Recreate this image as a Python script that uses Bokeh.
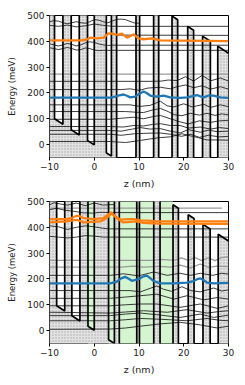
import numpy as np
from bokeh.plotting import figure
from bokeh.layouts import column
from bokeh.models import Range1d
from bokeh.embed import file_html
from bokeh.resources import INLINE

# ---------------- data ----------------
x_ticks = [-10, 0, 10, 20, 30]
y_ticks = [0, 100, 200, 300, 400, 500]

# layer boundaries (nm); material per layer (1 = barrier, 0 = well)
top_edges = [-10, -8.88, -7.0, -5.15, -3.35, -1.5, 0.0, 2.7, 3.83, 5.0, 9.33, 10.14,
             13.27, 14.4, 17.38, 18.64, 20.88, 22.2, 24.2, 25.95, 27.6, 30]
bot_edges = [-10, -8.4, -6.6, -5.0, -3.2, -1.4, 0.0, 3.2, 4.5, 5.6, 9.5, 10.1,
             13.3, 14.7, 17.6, 18.8, 21.0, 22.3, 24.3, 25.9, 27.7, 30]
layer_barrier = [1, 0, 1, 0, 1, 0, 1, 0, 1, 0, 1, 0, 1, 0, 1, 0, 1, 0, 1, 0, 1]
# band edge: well bottom at z=0 (meV), field (meV/nm), barrier height (meV)
top_band = (-1.0, 11.4, 697.0)
bot_band = (1.0, 11.3, 685.0)

# highlighted (green) regions, bottom panel
green_left = [-1.4, 3.2]
green_right = [0.0, 17.6]

# ---- top panel states ----
top_gray_E = [273]
top_u1_z = [-10, -9, -8, -7, -6, -5, -4, -3, -2, -1, 0, 1, 2, 3, 4, 5, 6, 7, 8, 9, 10]
top_u1_E = [476, 480, 478, 472, 468, 472, 476, 472, 470, 476, 484, 482, 476, 472, 478, 485, 486, 484, 477, 471, 470]
top_u2_z = [-10, -8, -6, -4, -2, 0, 2, 4, 30]
top_u2_E = [462, 458, 463, 456, 460, 467, 462, 458, 458]
top_u5_z = [5, 30]
top_u5_E = [424, 423]
top_u3_z = [-10, -9, -8, -7, -6, -5, -4, -3, -2, -1, 0, 1, 2, 3, 4, 30]
top_u3_E = [390, 386, 382, 386, 392, 388, 382, 386, 394, 398, 396, 390, 386, 384, 385, 385]
top_u4_z = [-10, -9, -8, -7, -6, -5, -4, -3, -2, -1, 0, 1, 2, 30]
top_u4_E = [375, 372, 368, 372, 376, 372, 366, 368, 374, 372, 366, 364, 365, 365]
top_orange_z = [-10, -3.1, -1.8, -0.9, 0.6, 2.1, 3.2, 4.0, 4.7, 5.4, 6.2, 7.3, 8.0, 8.8, 9.9, 11.0, 12.9, 14.8, 30]
top_orange_E = [404, 404, 406, 414, 411, 414, 431, 430, 427, 426, 430, 414, 420, 427, 411, 408, 411, 404, 401]
top_blue_z = [-10, 3.6, 4.7, 5.6, 6.55, 7.3, 8.04, 9.16, 10.1, 11.0, 11.8, 12.5, 14.0, 15.5, 17.0, 19.24, 20.73, 22.0, 22.97, 23.7, 24.46, 25.57, 26.69, 28.18, 30]
top_blue_E = [182, 182, 186, 191, 194, 189, 183, 186, 197, 206, 199, 190, 186, 190, 183, 181, 183, 188, 192, 187, 183, 190, 190, 183, 181]
top_l1_z = [-10, 13, 15, 16.5, 18.5, 20.4, 22.2, 24.1, 26, 28.2, 30]
top_l1_E = [245, 245, 246, 250, 248, 263, 246, 268, 247, 258, 246]
top_l2_z = [-10, 6, 8, 10, 12, 14.8, 17, 18.5, 20.4, 22.2, 24.1, 26, 28.2, 30]
top_l2_E = [213, 213, 216, 210, 219, 222, 216, 224, 231, 220, 228, 215, 224, 215]
top_l3_z = [-10, 8, 10.3, 12.5, 14.76, 16.3, 17.8, 20, 21.9, 24.5, 26, 28.2, 30]
top_l3_E = [154, 154, 148, 152, 168, 150, 146, 158, 146, 156, 144, 154, 147]
top_l4_z = [-10, 7, 8.8, 11, 13, 14.76, 16.5, 17.8, 19.6, 21.5, 23.5, 25.2, 27, 28.5, 30]
top_l4_E = [128, 128, 126, 124, 134, 140, 128, 116, 112, 121, 114, 121, 113, 119, 115]
top_l5_z = [-10, 3.6, 6, 8.8, 11, 13, 14.76, 17, 19.2, 21, 23.5, 26, 28, 30]
top_l5_E = [98, 98, 102, 106, 100, 108, 113, 100, 88, 80, 92, 86, 92, 94]
top_l6_z = [-10, 3.6, 6.5, 8.8, 11, 13, 14.76, 17, 19.2, 21, 23.7, 26, 28, 30]
top_l6_E = [70, 70, 68, 74, 72, 78, 81, 74, 74, 64, 68, 60, 66, 62]
top_l7_z = [-10, 3.6, 6, 8.5, 10.3, 12.5, 14.76, 17, 19.2, 21, 23.7, 25.5, 27.5, 30]
top_l7_E = [55, 55, 52, 60, 66, 60, 62, 52, 45, 58, 48, 56, 50, 52]
top_l8_z = [-10, 3.6, 6, 9, 12, 14.76, 17, 19.5, 21.5, 23.5, 25.5, 28, 30]
top_l8_E = [40, 40, 36, 42, 44, 45, 40, 32, 40, 28, 36, 30, 32]
top_l9_z = [-10, 3.6, 7, 10.3, 12.5, 14.76, 17, 19.6, 21.5, 23, 25.2, 27.5, 30]
top_l9_E = [12, 12, 8, 16, 22, 27, 30, 42, 34, 28, 18, 18, 17]

# ---- bottom panel states ----
bot_gtop_z = [-10, 28.5]
bot_gtop_E = [474, 474]
bot_u1_z = [-10, -9, -7.5, -6, -4, -2, 0, 2, 3.6, 4.5]
bot_u1_E = [487, 495, 490, 486, 494, 484, 494, 486, 488, 488]
bot_u2_z = [-10, -8.5, -6.5, -4.5, -2.5, -0.5, 1.5, 3.6, 30]
bot_u2_E = [468, 474, 466, 462, 456, 455, 458, 457, 457]
bot_u3_z = [-10, -8, -6, -4, -2, 0, 2, 3.6, 30]
bot_u3_E = [406, 402, 392, 400, 406, 402, 396, 394, 394]
bot_u4_z = [-10, -8, -6, -4, -2, 0, 2, 3.6, 30]
bot_u4_E = [365, 362, 359, 362, 368, 366, 362, 362, 362]
bot_o1_z = [-10, -6.1, -4.8, -3.9, -3.0, -2.4, -0.16, 2.1, 3.0, 3.8, 4.69, 5.8, 7.5, 8.8, 10.28, 12.0, 14.0, 30]
bot_o1_E = [432, 432, 438, 445, 441, 436, 432, 436, 448, 458, 442, 430, 432, 432, 427, 426, 423, 423]
bot_o2_z = [-10, -6.1, -4.8, -3.9, -3.0, -2.4, 1.4, 2.8, 3.5, 3.9, 5.0, 6.5, 8.0, 9.5, 11.0, 14.0, 30]
bot_o2_E = [419, 423, 427, 429, 424, 419, 423, 436, 448, 454, 436, 419, 421, 423, 417, 414, 413]
bot_blue_z = [-10, 3.58, 5.07, 6.0, 6.9, 7.7, 8.4, 9.9, 11.0, 11.77, 12.5, 13.27, 14.76, 17.75, 20.73, 22.2, 23.0, 23.7, 24.5, 25.2, 26.7, 30]
bot_blue_E = [183, 183, 190, 202, 208, 201, 193, 199, 210, 213, 203, 192, 183, 183, 186, 192, 199, 202, 195, 186, 183, 185]
bot_g1_z = [-10, 13, 15, 17.8, 19.5, 21, 22.5, 24, 25.5, 27, 28.5, 30]
bot_g1_E = [272, 272, 276, 272, 282, 272, 283, 271, 282, 271, 283, 286]
bot_g2_z = [-10, 6, 8.8, 11, 14.76, 17, 19.2, 21.5, 23.7, 25.5, 27.5, 30]
bot_g2_E = [246, 246, 250, 246, 249, 246, 254, 243, 258, 245, 250, 248]
bot_b3_z = [-10, 3.6, 6.5, 9.9, 13.3, 16.3, 19.2, 21.5, 23.7, 26.5, 28.5, 30]
bot_b3_E = [214, 214, 220, 212, 227, 214, 222, 214, 222, 214, 222, 219]
bot_b4_z = [-10, 8, 10.3, 14, 15.5, 17.3, 19.6, 21.5, 23.7, 26.7, 28.5, 30]
bot_b4_E = [155, 155, 150, 173, 160, 152, 170, 155, 150, 165, 153, 158]
bot_b5_z = [-10, 3.6, 7, 10.3, 14, 17.8, 20.7, 24.5, 27.5, 30]
bot_b5_E = [125, 125, 130, 135, 141, 122, 135, 119, 128, 122]
bot_b6_z = [-10, 3.6, 7, 10.3, 14, 19.2, 23.7, 27.5, 30]
bot_b6_E = [96, 96, 100, 103, 103, 90, 103, 86, 96]
bot_b7_z = [-10, 3.6, 7, 11, 16.3, 20.7, 25.2, 28, 30]
bot_b7_E = [71, 68, 72, 77, 71, 81, 68, 74, 77]
bot_b8_z = [-10, 3.6, 7, 10.3, 14.76, 19.2, 23.7, 26.7, 30]
bot_b8_E = [58, 58, 64, 68, 60, 51, 64, 51, 60]
bot_b9_z = [-10, 3.6, 7, 10.3, 14.76, 20.73, 25.2, 28, 30]
bot_b9_E = [38, 38, 42, 47, 44, 38, 47, 40, 38]
bot_b10_z = [-10, 3.6, 7, 10.3, 14.76, 19.24, 23.7, 27.5, 30]
bot_b10_E = [5, 6, 10, 17, 26, 32, 22, 10, 17]

# ---------------- styles ----------------
FONT = "DejaVu Sans"
BLUE = "#1f77b4"
ORANGE = "#ff7f0e"
WF = "#262626"
GRAY = "#9a9a9a"
GREEN = "#d5f5d0"


def band_profile(edges, barrier, band):
    v0, field, vb = band
    zs, vs = [], []
    for i, b in enumerate(barrier):
        for z in (edges[i], edges[i + 1]):
            zs.append(z)
            vs.append(v0 - field * z + vb * b)
    return zs, vs


def make_panel(height, border_top, border_bottom, edges, band, thin, gray, colored, greens=None):
    p = figure(width=237, height=height, output_backend="svg", toolbar_location=None,
               x_range=Range1d(-10, 30), y_range=Range1d(-50, 500),
               min_border_left=49, min_border_right=9,
               min_border_top=border_top, min_border_bottom=border_bottom)
    p.grid.visible = False
    p.outline_line_color = "black"
    p.outline_line_width = 1
    p.background_fill_color = "white"
    p.border_fill_color = "white"

    if greens:
        p.quad(left=greens[0], right=greens[1], bottom=-60, top=520,
               fill_color=GREEN, line_color=None)

    zs, vs = band_profile(edges, layer_barrier, band)
    p.varea(x=zs, y1=[-60] * len(zs), y2=vs, fill_color="#e2e2e2",
            hatch_pattern=".", hatch_color="#a8a8a8", hatch_scale=3, hatch_weight=0.7)

    for zz, ee in gray:
        p.line(zz, ee, line_color=GRAY, line_width=1.3)
    for zz, ee in thin:
        p.line(zz, ee, line_color=WF, line_width=0.9)

    p.line(zs, vs, line_color="black", line_width=1.7)

    for zz, ee, c in colored:
        p.line(zz, ee, line_color=c, line_width=2.3)

    for ax in (p.xaxis[0], p.yaxis[0]):
        ax.major_label_text_font = FONT
        ax.major_label_text_font_size = "9px"
        ax.major_label_text_color = "#222222"
        ax.axis_line_color = None
        ax.major_tick_line_color = "black"
        ax.major_tick_out = 3
        ax.major_tick_in = 0
        ax.minor_tick_line_color = None
        ax.major_label_standoff = 2
        ax.axis_label_text_font = FONT
        ax.axis_label_text_font_style = "normal"
        ax.axis_label_text_color = "#222222"
    p.xaxis.ticker = x_ticks
    p.yaxis.ticker = y_ticks
    p.xaxis.major_label_overrides = {-10: "\u221210"}
    p.yaxis.axis_label = "Energy (meV)"
    p.yaxis.axis_label_text_font_size = "8.5px"
    p.yaxis.axis_label_standoff = 7
    p.xaxis.axis_label = "z (nm)"
    p.xaxis.axis_label_text_font_size = "9.5px"
    p.xaxis.axis_label_standoff = 5
    return p


top_thin = [(top_u1_z, top_u1_E), (top_u2_z, top_u2_E), (top_u5_z, top_u5_E),
            (top_u3_z, top_u3_E), (top_u4_z, top_u4_E),
            (top_l1_z, top_l1_E), (top_l2_z, top_l2_E), (top_l3_z, top_l3_E),
            (top_l4_z, top_l4_E), (top_l5_z, top_l5_E), (top_l6_z, top_l6_E),
            (top_l7_z, top_l7_E), (top_l8_z, top_l8_E), (top_l9_z, top_l9_E)]
top_gray = [([-10, 30], [e, e]) for e in top_gray_E]
top_col = [(top_blue_z, top_blue_E, BLUE), (top_orange_z, top_orange_E, ORANGE)]

bot_thin = [(bot_u1_z, bot_u1_E), (bot_u2_z, bot_u2_E), (bot_u3_z, bot_u3_E),
            (bot_u4_z, bot_u4_E), (bot_b3_z, bot_b3_E), (bot_b4_z, bot_b4_E),
            (bot_b5_z, bot_b5_E), (bot_b6_z, bot_b6_E), (bot_b7_z, bot_b7_E),
            (bot_b8_z, bot_b8_E), (bot_b9_z, bot_b9_E), (bot_b10_z, bot_b10_E)]
bot_gray = [(bot_gtop_z, bot_gtop_E), (bot_g1_z, bot_g1_E), (bot_g2_z, bot_g2_E)]
bot_col = [(bot_blue_z, bot_blue_E, BLUE), (bot_o1_z, bot_o1_E, ORANGE),
           (bot_o2_z, bot_o2_E, ORANGE)]

p1 = make_panel(192, 15, 35, top_edges, top_band, top_thin, top_gray, top_col)
p2 = make_panel(185, 9, 33, bot_edges, bot_band, bot_thin, bot_gray, bot_col,
                greens=(green_left, green_right))

layout = column(p1, p2, spacing=0)
open("out.html", "w").write(file_html(layout, INLINE))
